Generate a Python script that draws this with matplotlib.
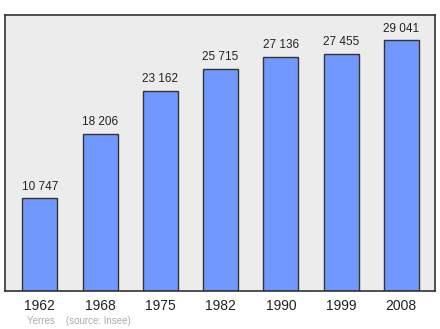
import matplotlib
matplotlib.use("Agg")
import matplotlib.pyplot as plt

years = ["1962", "1968", "1975", "1982", "1990", "1999", "2008"]
population = [10747, 18206, 23162, 25715, 27136, 27455, 29041]
labels = ["10 747", "18 206", "23 162", "25 715", "27 136", "27 455", "29 041"]

plt.rcParams['font.family'] = ['Liberation Sans', 'DejaVu Sans']

fig = plt.figure(figsize=(4.4, 3.29), dpi=100)
ax = fig.add_axes([5/440, 1 - 291/329, 430/440, 276/329])
ax.set_facecolor('#ececec')
x = list(range(len(years)))
ax.bar(x, population, width=0.58, color='#7098ff', edgecolor='#333333', linewidth=1.0, zorder=2)
for xi, v, lab in zip(x, population, labels):
    ax.annotate(lab, (xi, v), xytext=(0, 4), textcoords='offset points',
                ha='center', va='bottom', fontsize=8.5, color='#222222')
ax.set_xlim(-0.58, 6.56)
ax.set_ylim(0, max(population) * 1.1)
ax.set_yticks([])
ax.set_xticks(x)
ax.set_xticklabels(years, fontsize=10, color='#222222')
ax.tick_params(axis='x', length=0, pad=6)
for s in ax.spines.values():
    s.set_color('#333333')
    s.set_linewidth(1.2)
fig.text(27/440, 1 - 321/329, "Yerres    (source: Insee)", fontsize=7, color='#aaaaaa', va='center', ha='left')
fig.savefig("out.png", dpi=100, facecolor='white')
